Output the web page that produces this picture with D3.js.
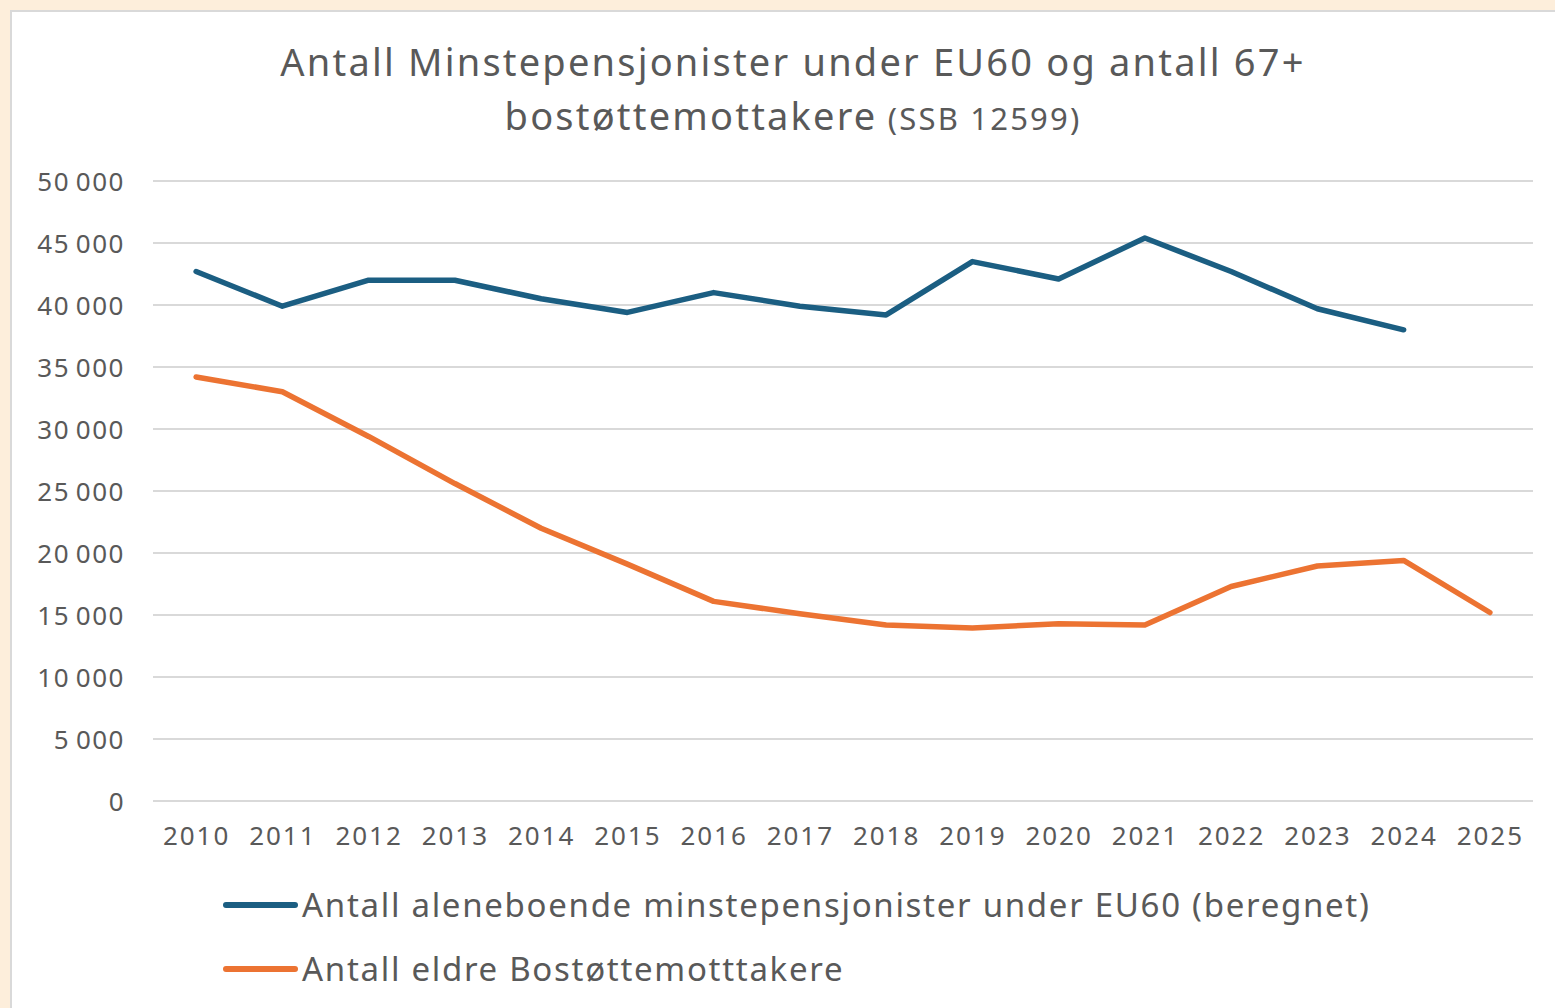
<!DOCTYPE html>
<html>
<head>
<meta charset="utf-8">
<script src="https://cdn.jsdelivr.net/npm/d3@7"></script>
<style>
  html, body { margin: 0; padding: 0; background: #fdeedb; overflow: hidden; }
  svg text { font-family: "Noto Sans", "Open Sans", sans-serif; fill: #595959; }
</style>
</head>
<body>
<div id="chart"></div>
<script>
const years = ["2010", "2011", "2012", "2013", "2014", "2015", "2016", "2017",
  "2018", "2019", "2020", "2021", "2022", "2023", "2024", "2025"];

// aleneboende minstepensjonister under EU60 (no value for 2025)
const minstepensjonister = [42700, 39900, 42000, 42000, 40500, 39400, 41000, 39900,
  39200, 43500, 42100, 45400, 42700, 39700, 38000, null];

// eldre bostøttemottakere
const bostotte = [34200, 33000, 29400, 25600, 22000, 19100, 16100, 15100,
  14200, 13950, 14300, 14200, 17300, 18950, 19400, 15200];

const yTicks = [0, 5000, 10000, 15000, 20000, 25000, 30000, 35000, 40000, 45000, 50000];

const seriesNames = [
  "Antall aleneboende minstepensjonister under EU60 (beregnet)",
  "Antall eldre Bostøttemotttakere"
];
const seriesColors = ["#1b5e82", "#ec7332"];

const width = 1555;
const height = 1008;
const margin = { left: 153, right: 22, top: 181, bottom: 207 };

const svg = d3.select("#chart")
  .append("svg")
  .attr("width", width)
  .attr("height", height);

// white chart panel with grey border
svg.append("rect")
  .attr("x", 11)
  .attr("y", 11)
  .attr("width", width)
  .attr("height", height)
  .attr("fill", "#ffffff")
  .attr("stroke", "#d9d9d9")
  .attr("stroke-width", 2);

const nb = d3.formatLocale({ decimal: ",", thousands: "\u2009", grouping: [3], currency: ["", ""] });
const fmt = nb.format(",d");

const x = d3.scalePoint()
  .domain(years)
  .range([margin.left, width - margin.right])
  .padding(0.5);

const y = d3.scaleLinear()
  .domain([0, 50000])
  .range([height - margin.bottom, margin.top]);

// grid
svg.append("g")
  .selectAll("line")
  .data(yTicks)
  .enter()
  .append("line")
  .attr("x1", margin.left)
  .attr("x2", width - margin.right)
  .attr("y1", (d) => y(d))
  .attr("y2", (d) => y(d))
  .attr("stroke", "#d9d9d9")
  .attr("stroke-width", 2);

// y axis labels
const yAxis = svg.append("g")
  .attr("transform", `translate(${margin.left - 28},0)`)
  .call(d3.axisLeft(y).tickValues(yTicks).tickFormat(fmt).tickSize(0).tickPadding(0));
yAxis.select(".domain").remove();
yAxis.selectAll("text")
  .attr("font-size", 26)
  .attr("letter-spacing", 1.5)
  .attr("dy", "0.35em");

// x axis labels
const xAxis = svg.append("g")
  .attr("transform", `translate(0,${height - margin.bottom})`)
  .call(d3.axisBottom(x).tickSize(0).tickPadding(26));
xAxis.select(".domain").remove();
xAxis.selectAll("text")
  .attr("font-size", 26)
  .attr("letter-spacing", 2);

// lines
const line = d3.line()
  .defined((d) => d != null)
  .x((d, i) => x(years[i]))
  .y((d) => y(d));

[minstepensjonister, bostotte].forEach((values, i) => {
  svg.append("path")
    .datum(values)
    .attr("fill", "none")
    .attr("stroke", seriesColors[i])
    .attr("stroke-width", 5.5)
    .attr("stroke-linejoin", "round")
    .attr("stroke-linecap", "round")
    .attr("d", line);
});

// title
svg.append("text")
  .attr("text-anchor", "middle")
  .attr("x", 793)
  .attr("y", 76)
  .attr("font-size", 38)
  .attr("letter-spacing", 2.2)
  .text("Antall Minstepensjonister under EU60 og antall 67+");

const title2 = svg.append("text")
  .attr("text-anchor", "middle")
  .attr("x", 793)
  .attr("y", 130)
  .attr("letter-spacing", 2.2);
title2.append("tspan").attr("font-size", 38).text("bostøttemottakere");
title2.append("tspan").attr("font-size", 31).text(" (SSB 12599)");

// legend
const legend = svg.append("g").attr("transform", "translate(224,905)");
seriesNames.forEach((name, i) => {
  const row = legend.append("g").attr("transform", `translate(0,${i * 64})`);
  row.append("line")
    .attr("x1", 2)
    .attr("x2", 71)
    .attr("stroke", seriesColors[i])
    .attr("stroke-width", 6)
    .attr("stroke-linecap", "round");
  row.append("text")
    .attr("x", 78)
    .attr("dy", "0.35em")
    .attr("font-size", 33)
    .attr("letter-spacing", 1.7)
    .text(name);
});
</script>
</body>
</html>
